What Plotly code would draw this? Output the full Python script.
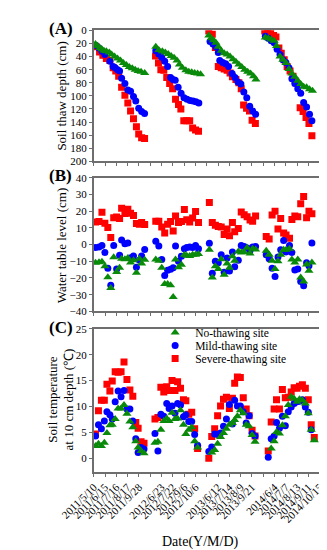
import plotly.graph_objects as go

# ---------------- tick labels (dates) ----------------
tick_pos = list(range(21))
tick_text = ["2011/5/10", "2011/6/15", "2011/7/16", "2011/8/17", "2011/9/28", "",
             "2012/6/23", "2012/7/22", "2012/9/6", "2012/10/6", "",
             "2013/6/12", "2013/7/14", "2013/8/9", "2013/9/21", "",
             "2014/6/4", "2014/7/7", "2014/8/13", "2014/9/11", "2014/10/15"]

series_names = ["No-thawing site", "Mild-thawing site", "Severe-thawing site"]

# ---------------- Panel A: soil thaw depth (cm) ----------------
a_no_x = [0.16, 0.34, 0.55, 0.73, 0.91, 1.12, 1.38, 1.59, 1.85, 2.11, 2.37, 2.63, 2.89, 3.15, 3.41, 3.67, 3.93, 4.19, 4.51,
          5.49, 5.76, 6.07, 6.33, 6.59, 6.85, 7.11, 7.37, 7.58, 7.84, 8.15, 8.41, 8.67, 8.93, 9.19, 9.45,
          10.18, 10.39, 10.60, 10.81, 11.02, 11.28, 11.54, 11.80, 12.06, 12.32, 12.58, 12.84, 13.10, 13.36, 13.62, 13.88, 14.14, 14.35,
          15.18, 15.44, 15.70, 15.96, 16.17, 16.48, 16.74, 17.00, 17.27, 17.53, 17.79, 18.05, 18.31, 18.57, 18.83, 19.09, 19.35]
a_no_y = [21, 24, 27, 29, 31, 32, 34, 37, 40, 43, 46, 50, 53, 56, 58, 60, 62, 63, 65,
          25, 30, 32, 34, 36, 39, 42, 46, 52, 57, 61, 63, 64, 65, 66, 67,
          8, 12, 15, 19, 25, 31, 35, 37, 40, 44, 48, 52, 56, 60, 63, 66, 70, 75,
          11, 12, 14, 16, 24, 40, 45, 50, 59, 66, 71, 77, 82, 86, 87, 90, 92]

a_mild_x = [0.21, 0.47, 0.73, 0.99, 1.43, 1.72, 1.90, 2.11, 2.29, 2.47, 2.76, 3.02, 3.26, 3.52, 3.72, 3.98, 4.24, 4.50,
            5.49, 5.76, 6.02, 6.28, 6.54, 6.80, 7.01, 7.21, 7.47, 7.73, 7.99, 8.26, 8.52, 8.78, 9.04, 9.30,
            10.29, 10.55, 10.81, 11.02, 11.15, 11.41, 11.67, 11.93, 12.24, 12.50, 12.76, 13.02, 13.28, 13.54, 13.80, 14.06, 14.32,
            15.18, 15.44, 15.70, 15.96, 16.22, 16.48, 16.74, 17.00, 17.27, 17.53, 17.79, 18.05, 18.31, 18.57, 18.83, 19.09, 19.30]
a_mild_y = [23, 27, 32, 37, 47, 55, 57, 60, 62, 73, 81, 91, 93, 101, 108, 119, 124, 127,
            31, 36, 41, 47, 55, 72, 75, 76, 87, 96, 103, 105, 107, 108, 109, 111,
            17, 21, 25, 34, 46, 49, 51, 55, 66, 72, 79, 82, 94, 103, 116, 123, 128,
            9, 12, 16, 19, 29, 37, 45, 49, 57, 74, 81, 89, 96, 110, 117, 128, 138]

a_sev_x = [0.21, 0.52, 0.81, 1.12, 1.43, 1.72, 1.95, 2.21, 2.47, 2.76, 3.02, 3.26, 3.52, 3.78, 3.98, 4.24, 4.50,
           5.47, 5.73, 5.94, 6.20, 6.46, 6.72, 6.98, 7.24, 7.50, 7.71, 7.97, 8.23, 8.49, 8.75, 9.01, 9.27,
           10.18, 10.49, 10.76, 11.02, 11.28, 11.54, 11.80, 12.06, 12.27, 12.58, 12.84, 13.05, 13.26, 13.52, 13.78, 14.01, 14.30,
           15.13, 15.39, 15.65, 15.91, 16.12, 16.38, 16.59, 16.85, 17.11, 17.37, 17.63, 17.89, 18.26, 18.52, 18.78, 19.04, 19.30]
a_sev_y = [25, 33, 38, 43, 46, 57, 62, 70, 87, 99, 111, 123, 135, 147, 158, 164, 165,
           39, 50, 60, 61, 72, 81, 89, 105, 113, 120, 138, 138, 138, 149, 152, 154,
           1, 6, 26, 55, 57, 59, 61, 65, 71, 75, 80, 89, 114, 119, 123, 137, 142,
           1, 3, 5, 8, 10, 27, 35, 45, 55, 62, 70, 80, 118, 124, 133, 142, 161]

# ---------------- Panel B: water table level (cm) ----------------
b_x = [0.16, 0.47, 0.73, 0.99, 1.25, 1.51, 1.77, 2.03, 2.29, 2.47, 2.76, 3.02, 3.26, 3.52, 3.78, 4.04, 4.24, 4.51,
       5.49, 5.76, 6.02, 6.28, 6.54, 6.80, 7.03, 7.24, 7.50, 7.76, 8.02, 8.23, 8.49, 8.75, 9.01, 9.27,
       10.23, 10.49, 10.76, 11.02, 11.28, 11.54, 11.80, 12.01, 12.27, 12.47, 12.79, 13.05, 13.31, 13.57, 13.83, 14.06, 14.32,
       15.26, 15.52, 15.78, 16.04, 16.30, 16.54, 16.80, 17.01, 17.32, 17.53, 17.79, 18.05, 18.31, 18.57, 18.83, 19.04, 19.30]
b_sev = [13.6, 13.8, 19.4, 12.8, 10.2, 4.2, 16.1, 16.5, 15.7, 21.8, 18.6, 21.2, 18.8, 17.5, 12.6, 12.2, 13.2, 12.0,
         14.0, 14.0, 10.6, 6.9, 12.2, 13.8, 8.1, 17.1, 13.2, 13.8, 21.0, 14.9, 13.6, 15.9, 19.8, 13.2,
         25.3, 13.2, 11.6, 10.8, 10.6, 6.1, 9.3, 5.3, 13.2, 7.7, 9.6, 19.6, 17.9, 16.7, 14.7, 14.0, 17.1,
         4.8, 3.4, 17.7, 20.0, 9.3, 15.7, 6.9, 5.7, 3.8, 15.1, 17.1, 16.7, 24.5, 28.8, 16.1, 20.0, 18.5]
b_mild = [-1.7, -1.5, -0.5, -4.8, -14.2, -24.4, -0.5, -14.6, -6.4, 2.8, 0.5, 1.0, -7.8, -6.8, -13.6, -9.3, -6.8, -2.9,
          2.0, -0.9, -8.9, -18.5, -15.4, -14.8, -13.8, -0.9, -9.9, -7.0, -2.5, -1.7, -1.5, -1.7, -0.5, -2.5,
          0.8, -17.2, -9.9, -10.9, -6.0, -16.6, -8.0, -15.8, -4.4, -13.2, -9.3, -0.5, -1.1, -2.1, -3.5, -1.5, -1.1,
          -6.0, -8.4, -14.2, -19.1, -7.4, -3.1, 2.4, -4.4, -0.5, -4.8, -15.2, -14.6, -22.1, -24.6, -10.9, -12.7, 1.0]
b_no = [-10.9, -10.5, -10.3, -12.9, -19.5, -26.0, -7.6, -16.4, -13.8, -8.4, -8.7, -8.0, -10.7, -9.3, -16.8, -8.4, -11.3, -9.1,
        -8.9, -9.7, -13.8, -23.6, -23.6, -24.4, -31.4, -8.9, -13.6, -12.1, -6.0, -6.6, -6.8, -6.0, -6.0, -5.6,
        -3.1, -19.7, -12.9, -14.6, -8.7, -18.1, -11.3, -13.8, -7.0, -9.7, -4.1, -4.8, -4.4, -1.9, -5.4, -2.5, -2.9,
        -3.7, -6.0, -9.7, -14.6, -9.9, -6.0, -3.1, -3.1, -2.5, -8.9, -10.7, -8.9, -19.7, -22.1, -11.9, -15.6, -10.7]

# ---------------- Panel C: soil temperature at 10 cm (deg C) ----------------
c_x = [0.16, 0.42, 0.68, 0.94, 1.17, 1.43, 1.64, 1.90, 2.16, 2.42, 2.68, 2.94, 3.20, 3.46, 3.72, 3.93, 4.19, 4.45,
       5.42, 5.68, 5.94, 6.20, 6.46, 6.67, 6.93, 7.19, 7.42, 7.68, 7.94, 8.15, 8.41, 8.67, 8.93, 9.19,
       10.18, 10.44, 10.70, 10.96, 11.22, 11.48, 11.74, 12.00, 12.27, 12.47, 12.71, 12.97, 13.23, 13.49, 13.75, 14.01, 14.27,
       15.44, 15.70, 15.96, 16.17, 16.43, 16.69, 16.95, 17.21, 17.47, 17.73, 17.99, 18.20, 18.46, 18.72, 18.98, 19.24, 19.51]
c_sev = [4.7, 9.2, 11.2, 11.2, 14.3, 13.0, 14.9, 16.7, 16.6, 16.7, 18.6, 15.2, 13.2, 12.0, 6.9, 5.8, 3.2, 2.9,
         7.6, 7.9, 13.7, 12.8, 13.8, 13.1, 15.0, 13.1, 14.8, 13.5, 11.3, 11.1, 8.5, 8.9, 5.7, 1.9,
         0.0, 4.2, 5.7, 8.2, 10.1, 11.4, 11.8, 9.6, 11.6, 14.5, 15.7, 15.6, 11.7, 9.5, 8.2, 5.4, 4.3,
         1.4, 7.0, 9.5, 11.3, 9.5, 13.3, 11.7, 11.8, 12.8, 13.6, 13.5, 13.9, 14.2, 13.5, 11.3, 6.5, 4.0]
c_mild = [4.3, 6.5, 5.7, 7.2, 9.0, 8.4, 7.6, 10.9, 13.0, 11.9, 13.1, 9.5, 9.5, 7.2, 3.8, 1.1, 2.1, 1.8,
          4.8, 1.4, 8.5, 8.1, 10.6, 9.6, 10.1, 8.7, 10.6, 10.3, 8.0, 8.4, 7.1, 7.1, 4.6, 2.5,
          1.3, 2.2, 4.7, 4.6, 4.9, 6.2, 7.6, 10.4, 6.6, 11.2, 10.1, 10.1, 9.0, 6.8, 8.2, 4.8, 4.3,
          0.2, 3.8, 4.3, 6.9, 5.8, 8.1, 6.3, 9.0, 9.9, 10.6, 10.9, 11.0, 11.3, 9.9, 8.9, 5.5, None]
c_no = [2.4, 2.8, 2.4, 3.0, 4.9, 6.4, 6.5, 7.6, 9.6, 9.6, 10.3, 8.6, 7.1, 6.0, 3.3, 2.1, 1.4, 1.0,
        3.0, 3.2, 5.5, 7.2, 7.7, 7.2, 8.8, 7.6, 7.7, 9.3, 6.5, 4.7, 5.5, 6.0, 3.3, 2.1,
        None, 1.1, 1.6, 2.8, 4.1, 4.9, 5.7, 6.5, 6.8, 7.4, 8.1, 9.3, 8.7, 6.5, 6.2, 4.5, 3.2,
        None, 1.9, 3.3, 5.1, 4.8, 6.4, 8.1, 10.3, 11.9, 11.5, 10.9, 11.4, 11.2, 10.6, 8.7, 5.5, 3.5]

# ---------------- styling ----------------
FONT = "Liberation Serif"
C_NO, C_MILD, C_SEV = "#0A8A0A", "#0000FF", "#FF0000"
SYM = {"no": "triangle-up", "mild": "circle", "sev": "square"}
LINE_C = "#6E6E6E"
W, H = 327, 550

fig = go.Figure()

def add(x, y, key, color, xa, ya, name, legend=None):
    fig.add_trace(go.Scatter(
        x=x, y=y, mode="markers", name=name, xaxis=xa, yaxis=ya,
        marker=dict(symbol=SYM[key], color=color, size=8 if key == "no" else 7,
                    line=dict(width=0)),
        showlegend=legend is not None, legend=legend or "legend"))

# panel A
add(a_sev_x, a_sev_y, "sev", C_SEV, "x", "y", series_names[2])
add(a_mild_x, a_mild_y, "mild", C_MILD, "x", "y", series_names[1])
add(a_no_x, a_no_y, "no", C_NO, "x", "y", series_names[0])
# panel B
add(b_x, b_sev, "sev", C_SEV, "x2", "y2", series_names[2])
add(b_x, b_mild, "mild", C_MILD, "x2", "y2", series_names[1])
add(b_x, b_no, "no", C_NO, "x2", "y2", series_names[0])
# panel C (carries the legend)
add(c_x, c_sev, "sev", C_SEV, "x3", "y3", series_names[2], "legend3")
add(c_x, c_mild, "mild", C_MILD, "x3", "y3", series_names[1], "legend2")
add(c_x, c_no, "no", C_NO, "x3", "y3", series_names[0], "legend")

XD = [58.5 / W, 316 / W]
XR = [0, 20.13]

def xax(anchor, labels):
    return dict(domain=XD, range=XR, anchor=anchor, tickmode="array", tickvals=tick_pos,
                ticktext=tick_text if labels else [""] * 21, showticklabels=labels,
                tickangle=-45, tickfont=dict(size=11, family=FONT, color="black"),
                ticks="outside", ticklen=3, tickwidth=1, tickcolor=LINE_C,
                showline=True, linecolor=LINE_C, linewidth=1.5, mirror=True,
                showgrid=False, zeroline=False)

def yax(anchor, dom, rng, vals):
    return dict(domain=dom, range=rng, anchor=anchor, tickmode="array", tickvals=vals,
                tickfont=dict(size=11, family=FONT, color="black"),
                ticks="outside", ticklen=3, tickwidth=1, tickcolor=LINE_C,
                showline=True, linecolor=LINE_C, linewidth=1.5, mirror=True,
                showgrid=False, zeroline=False)

def ydom(top, bot):
    return [1 - bot / H, 1 - top / H]

layout = dict(
    width=W, height=H, margin=dict(l=0, r=0, t=0, b=0),
    paper_bgcolor="white", plot_bgcolor="white",
    font=dict(family=FONT, color="black"),
    xaxis=xax("y", False), xaxis2=xax("y2", False), xaxis3=xax("y3", True),
    xaxis4=dict(overlaying="x", side="top", anchor="y", range=XR, tickmode="array",
                tickvals=tick_pos, showticklabels=False, ticks="inside", ticklen=3,
                tickwidth=1, tickcolor=LINE_C, showline=False, showgrid=False, zeroline=False),
    yaxis=yax("x", ydom(16.7, 150.7), [200, 0], list(range(0, 201, 20))),
    yaxis2=yax("x2", ydom(167.5, 304), [-40, 40], list(range(-40, 41, 10))),
    yaxis3=yax("x3", ydom(321.8, 468), [-2.6, 25], [0, 5, 10, 15, 20, 25]),
    showlegend=True,
)

leg_common = dict(xanchor="left", yanchor="middle", bgcolor="rgba(0,0,0,0)",
                  font=dict(size=11.5, family=FONT, color="black"), borderwidth=0,
                  tracegroupgap=0, itemclick=False)
LX = 128 / W
layout["legend"] = dict(x=LX, y=1 - 325.7 / H, **leg_common)
layout["legend2"] = dict(x=LX, y=1 - 339 / H, **leg_common)
layout["legend3"] = dict(x=LX, y=1 - 352.3 / H, **leg_common)

fig.update_layout(**layout)

ann = []
for lab, yy in [("(A)", 15), ("(B)", 165), ("(C)", 320)]:
    ann.append(dict(text=f"<b>{lab}</b>", x=21 / W, y=1 - yy / H, xref="paper", yref="paper",
                    showarrow=False, font=dict(size=17, family=FONT, color="black"),
                    xanchor="center", yanchor="middle"))
ann.append(dict(text="Soil thaw depth (cm)", x=22 / W, y=1 - 84 / H, textangle=-90))
ann.append(dict(text="Water table level (cm)", x=22 / W, y=1 - 236 / H, textangle=-90))
ann.append(dict(text="Soil temperature<br>at 10 cm depth (℃)", x=21.5 / W, y=1 - 394 / H, textangle=-90))
ann.append(dict(text="Date(Y/M/D)", x=179 / W, y=1 - 540 / H, font=dict(size=14, family=FONT, color="black")))
for a in ann[3:]:
    a.setdefault("xref", "paper")
    a.setdefault("yref", "paper")
    a.setdefault("showarrow", False)
    a.setdefault("font", dict(size=13, family=FONT, color="black"))
    a.setdefault("xanchor", "center")
    a.setdefault("yanchor", "middle")
fig.update_layout(annotations=ann)

fig.write_html("out.html")
